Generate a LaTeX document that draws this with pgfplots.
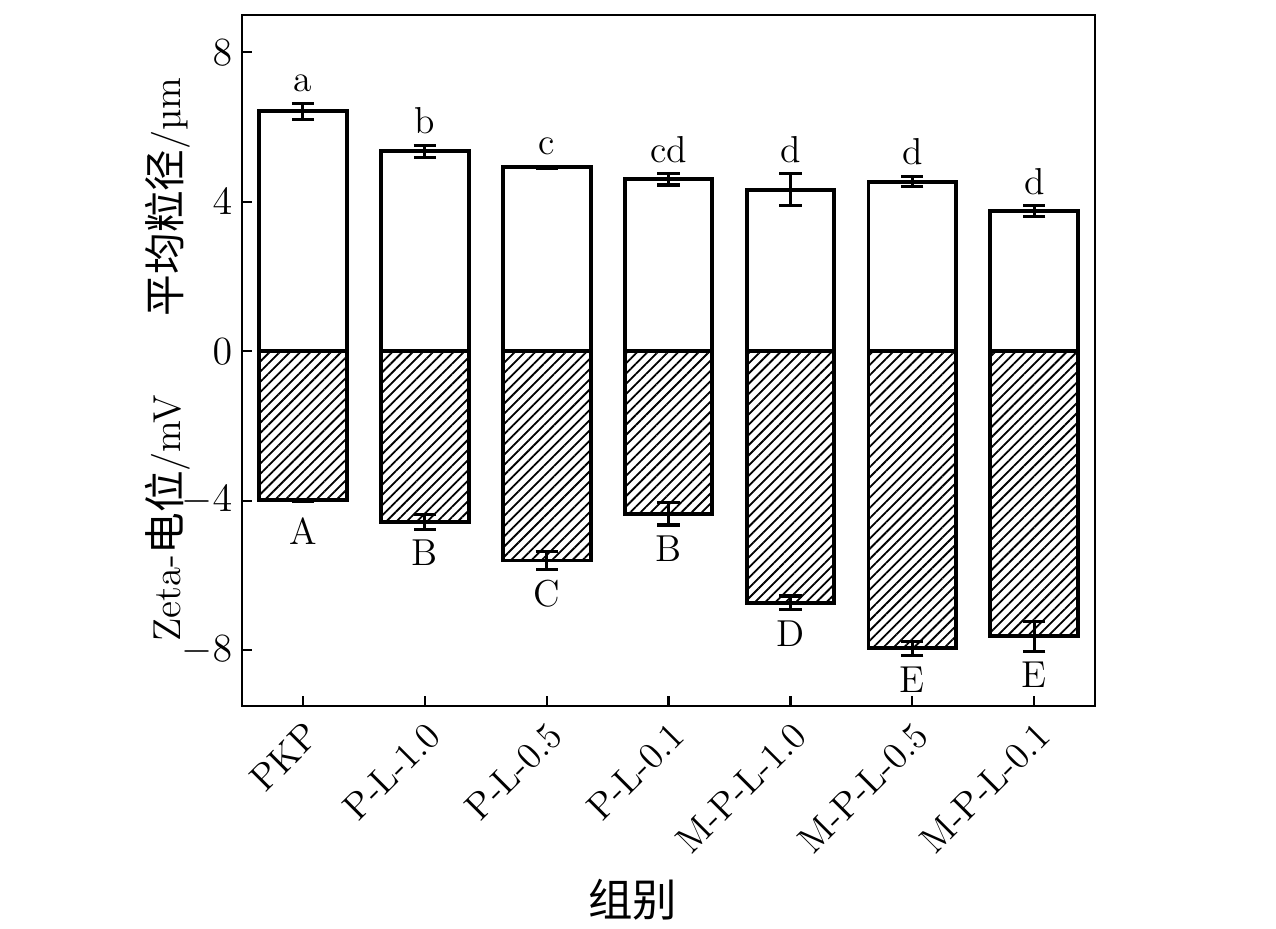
\documentclass[border=0pt]{standalone}
\usepackage{fontspec}
\usepackage{pgfplots}
\usepackage{pgfplotstable}
\pgfplotsset{compat=1.18}
\usetikzlibrary{patterns.meta}
\newfontfamily\cjk{Noto Sans CJK SC}

\pgfplotstableread{
x y e ly lab
0 6.42 0.22 6.64 a
1 5.35 0.16 5.51 b
2 4.92 0.03 4.95 c
3 4.60 0.15 4.75 cd
4 4.32 0.43 4.75 d
5 4.54 0.14 4.68 d
6 3.75 0.15 3.90 d
}\pos
\pgfplotstableread{
x y e ly lab
0 -3.99 0.03 -4.16 A
1 -4.56 0.20 -4.76 B
2 -5.60 0.24 -5.84 C
3 -4.35 0.30 -4.65 B
4 -6.73 0.18 -6.91 D
5 -7.95 0.19 -8.14 E
6 -7.63 0.40 -8.03 E
}\neg

\begin{document}
\begin{tikzpicture}
\useasboundingbox (-87.1pt,-79.9pt) rectangle (372.2pt,254.2pt);
\begin{axis}[
  scale only axis, width=307.1pt, height=248.8pt,
  clip=false,
  xmin=-0.5, xmax=6.5, ymin=-9.5, ymax=9,
  ybar, bar width=0.72, bar shift=0pt,
  xtick={0,1,2,3,4,5,6},
  xticklabels={PKP,P-L-1.0,P-L-0.5,P-L-0.1,M-P-L-1.0,M-P-L-0.5,M-P-L-0.1},
  xticklabel style={rotate=45, anchor=north east, font=\fontsize{13.5}{15}\selectfont},
  ytick={-8,-4,0,4,8},
  yticklabel style={font=\fontsize{14}{16}\selectfont},
  tick align=inside, xtick pos=bottom, ytick pos=left,
  major tick length=3.6pt,
  axis line style={line width=0.8pt},
  every tick/.style={line width=0.8pt, black},
  xlabel={\cjk\fontsize{16}{18}\selectfont 组别},
  xlabel style={at={(rel axis cs:0.458,0)}, anchor=center, yshift=-69.8pt},
  nodes near coords,
  point meta=explicit symbolic,
  every node near coord/.append style={font=\fontsize{13.5}{15}\selectfont, black},
]
\addplot[draw=black, line width=1.4pt, pattern={Lines[angle=45,distance=2.6pt,line width=0.65pt]}, nodes near coords={},
  error bars/.cd, y dir=both, y explicit,
  error bar style={line width=1.1pt, black},
  error mark options={rotate=90, mark size=4pt, line width=1.1pt, black}]
  table[x=x, y=y, y error=e] {\neg};
\addplot[draw=black, fill=white, line width=1.4pt, nodes near coords={},
  error bars/.cd, y dir=both, y explicit,
  error bar style={line width=1.1pt, black},
  error mark options={rotate=90, mark size=4pt, line width=1.1pt, black}]
  table[x=x, y=y, y error=e] {\pos};
\addplot[sharp plot, draw=none, mark=none, every node near coord/.append style={anchor=south, inner sep=3.8pt}]
  table[x=x, y=ly, meta=lab] {\pos};
\addplot[sharp plot, draw=none, mark=none, every node near coord/.append style={anchor=north, inner sep=3.8pt}]
  table[x=x, y=ly, meta=lab] {\neg};
\node[rotate=90, anchor=center] at (rel axis cs:-0.0866,0.737)
  {{\cjk\fontsize{15}{17}\selectfont 平均粒径}\fontsize{14}{16}\selectfont/µm};
\node[rotate=90, anchor=center] at (rel axis cs:-0.0866,0.272)
  {\fontsize{14}{16}\selectfont Zeta-{\cjk\fontsize{15}{17}\selectfont 电位}/mV};
\end{axis}
\end{tikzpicture}
\end{document}
